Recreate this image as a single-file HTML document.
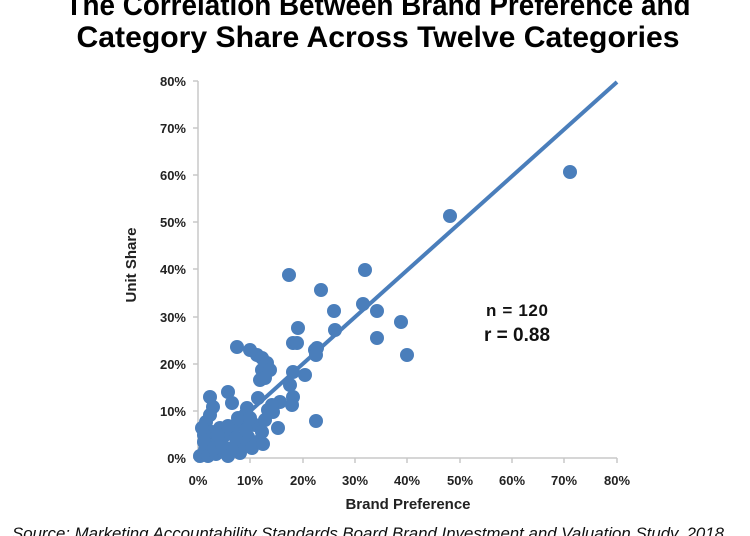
<!DOCTYPE html>
<html><head><meta charset="utf-8"><style>
body{margin:0;background:#fff;width:750px;height:536px;overflow:hidden}
svg{display:block}
</style></head><body>
<svg width="750" height="536" viewBox="0 0 750 536" font-family="Liberation Sans, Arial, sans-serif">
<text x="378" y="15" text-anchor="middle" font-size="30" font-weight="bold" textLength="625" lengthAdjust="spacingAndGlyphs">The Correlation Between Brand Preference and</text>
<text x="378" y="47" text-anchor="middle" font-size="30" font-weight="bold" textLength="603" lengthAdjust="spacingAndGlyphs">Category Share Across Twelve Categories</text>
<g stroke="#c8c8c8" stroke-width="1.5" fill="none">
<line x1="198" y1="81" x2="198" y2="458"/>
<line x1="198" y1="458" x2="617" y2="458"/>
<path d="M193 81H198M193 128H198M193 175H198M193 222H198M193 269H198M193 317H198M193 364H198M193 411H198M193 458H198"/>
<path d="M198 458V463M250 458V463M303 458V463M355 458V463M407 458V463M460 458V463M512 458V463M564 458V463M617 458V463"/>
</g>
<g font-size="13" font-weight="bold" fill="#222" text-anchor="end">
<text x="186" y="86">80%</text><text x="186" y="133">70%</text><text x="186" y="180">60%</text><text x="186" y="227">50%</text><text x="186" y="274">40%</text><text x="186" y="322">30%</text><text x="186" y="369">20%</text><text x="186" y="416">10%</text><text x="186" y="463">0%</text>
</g>
<g font-size="13" font-weight="bold" fill="#222" text-anchor="middle">
<text x="198" y="485">0%</text><text x="250" y="485">10%</text><text x="303" y="485">20%</text><text x="355" y="485">30%</text><text x="407" y="485">40%</text><text x="460" y="485">50%</text><text x="512" y="485">60%</text><text x="564" y="485">70%</text><text x="617" y="485">80%</text>
</g>
<text x="408" y="509" text-anchor="middle" font-size="15" font-weight="bold" fill="#222">Brand Preference</text>
<text transform="translate(136,265) rotate(-90)" text-anchor="middle" font-size="15" font-weight="bold" fill="#222">Unit Share</text>
<text x="517" y="316" text-anchor="middle" font-size="17" font-weight="bold" fill="#111" textLength="62">n = 120</text>
<text x="517" y="341" text-anchor="middle" font-size="19" font-weight="bold" fill="#111">r = 0.88</text>
<line x1="199" y1="457" x2="617" y2="82" stroke="#4a7ebb" stroke-width="4"/>
<g fill="#4a7ebb">
<circle cx="570" cy="172" r="7"/><circle cx="450" cy="216" r="7"/><circle cx="407" cy="355" r="7"/><circle cx="401" cy="322" r="7"/><circle cx="377" cy="311" r="7"/><circle cx="377" cy="338" r="7"/><circle cx="365" cy="270" r="7"/><circle cx="363" cy="304" r="7"/><circle cx="334" cy="311" r="7"/><circle cx="335" cy="330" r="7"/><circle cx="321" cy="290" r="7"/><circle cx="315" cy="350" r="7"/><circle cx="317" cy="348" r="7"/><circle cx="298" cy="328" r="7"/><circle cx="289" cy="275" r="7"/><circle cx="293" cy="343" r="7"/><circle cx="297" cy="343" r="7"/><circle cx="316" cy="355" r="7"/><circle cx="316" cy="421" r="7"/><circle cx="305" cy="375" r="7"/><circle cx="293" cy="372" r="7"/><circle cx="290" cy="385" r="7"/><circle cx="293" cy="397" r="7"/><circle cx="292" cy="405" r="7"/><circle cx="278" cy="428" r="7"/><circle cx="237" cy="347" r="7"/><circle cx="250" cy="350" r="7"/><circle cx="257" cy="355" r="7"/><circle cx="262" cy="358" r="7"/><circle cx="267" cy="363" r="7"/><circle cx="262" cy="370" r="7"/><circle cx="270" cy="370" r="7"/><circle cx="260" cy="380" r="7"/><circle cx="265" cy="378" r="7"/><circle cx="280" cy="402" r="7"/><circle cx="272" cy="405" r="7"/><circle cx="268" cy="410" r="7"/><circle cx="273" cy="412" r="7"/><circle cx="258" cy="398" r="7"/><circle cx="247" cy="408" r="7"/><circle cx="245" cy="415" r="7"/><circle cx="228" cy="392" r="7"/><circle cx="232" cy="403" r="7"/><circle cx="210" cy="397" r="7"/><circle cx="213" cy="407" r="7"/><circle cx="210" cy="415" r="7"/><circle cx="206" cy="422" r="7"/><circle cx="257" cy="442" r="7"/><circle cx="240" cy="453" r="7"/><circle cx="248" cy="437" r="7"/><circle cx="255" cy="425" r="7"/><circle cx="262" cy="432" r="7"/><circle cx="265" cy="420" r="7"/><circle cx="240" cy="425" r="7"/><circle cx="232" cy="430" r="7"/><circle cx="225" cy="435" r="7"/><circle cx="218" cy="440" r="7"/><circle cx="210" cy="445" r="7"/><circle cx="205" cy="450" r="7"/><circle cx="200" cy="456" r="7"/><circle cx="208" cy="456" r="7"/><circle cx="216" cy="454" r="7"/><circle cx="224" cy="452" r="7"/><circle cx="232" cy="448" r="7"/><circle cx="228" cy="456" r="7"/><circle cx="244" cy="443" r="7"/><circle cx="236" cy="438" r="7"/><circle cx="220" cy="428" r="7"/><circle cx="212" cy="432" r="7"/><circle cx="204" cy="435" r="7"/><circle cx="204" cy="442" r="7"/><circle cx="214" cy="448" r="7"/><circle cx="222" cy="444" r="7"/><circle cx="246" cy="430" r="7"/><circle cx="252" cy="448" r="7"/><circle cx="218" cy="435" r="7"/><circle cx="228" cy="426" r="7"/><circle cx="238" cy="418" r="7"/><circle cx="250" cy="418" r="7"/><circle cx="202" cy="428" r="7"/><circle cx="263" cy="444" r="7"/></g>
<text x="12" y="539" font-size="17" font-style="italic" fill="#111" textLength="712" lengthAdjust="spacingAndGlyphs">Source:  Marketing Accountability Standards Board Brand Investment and Valuation Study, 2018</text>
</svg>
</body></html>
